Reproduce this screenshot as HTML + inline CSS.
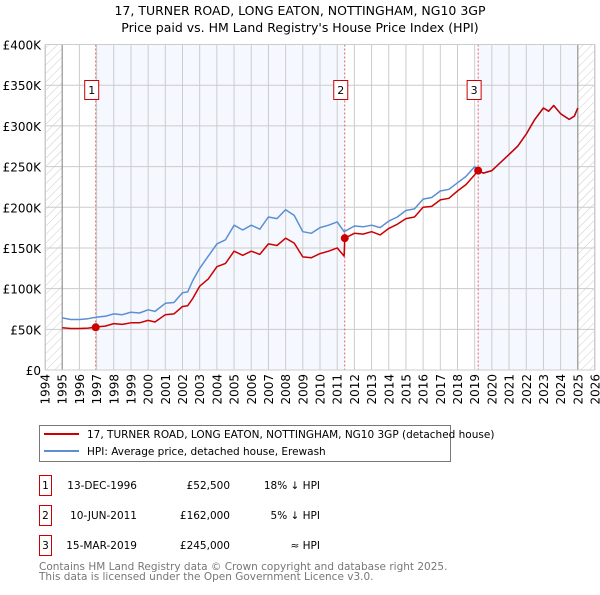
<!DOCTYPE html>
<html><head><meta charset="utf-8"><style>
body{margin:0;background:#fff;font-family:"Liberation Sans","DejaVu Sans",sans-serif;}
svg text{font-family:"DejaVu Sans","Liberation Sans",sans-serif;}
</style></head><body>
<svg id="chart" width="600" height="590" viewBox="0 0 600 590" xmlns="http://www.w3.org/2000/svg">
<defs>
<pattern id="hatch" width="6" height="6" patternUnits="userSpaceOnUse" patternTransform="rotate(45)">
<line x1="0" y1="0" x2="0" y2="6" stroke="#ccc" stroke-width="1"/>
</pattern>
</defs>
<text x="300" y="15" text-anchor="middle" font-size="12.5" fill="#000">17, TURNER ROAD, LONG EATON, NOTTINGHAM, NG10 3GP</text>
<text x="300" y="32" text-anchor="middle" font-size="12.5" fill="#000">Price paid vs. HM Land Registry's House Price Index (HPI)</text>
<g id="plot"></g>
<g>
<rect x="39.5" y="425.5" width="411" height="36" fill="#fff" stroke="#777"/>
<line x1="44" y1="434" x2="79" y2="434" stroke="#cc0000" stroke-width="2"/>
<text x="87" y="438" font-size="10.5">17, TURNER ROAD, LONG EATON, NOTTINGHAM, NG10 3GP (detached house)</text>
<line x1="44" y1="451" x2="79" y2="451" stroke="#5b8fd4" stroke-width="2"/>
<text x="87" y="455" font-size="10.5">HPI: Average price, detached house, Erewash</text>
</g>
<g font-size="10.5">
<rect x="39.5" y="475.5" width="12" height="20" fill="#fff" stroke="#cc0000"/>
<text x="45.5" y="489" text-anchor="middle">1</text>
<text x="137" y="489" text-anchor="end">13-DEC-1996</text>
<text x="230" y="489" text-anchor="end">£52,500</text>
<text x="320" y="489" text-anchor="end">18% ↓ HPI</text>
<rect x="39.5" y="505.5" width="12" height="20" fill="#fff" stroke="#cc0000"/>
<text x="45.5" y="519" text-anchor="middle">2</text>
<text x="137" y="519" text-anchor="end">10-JUN-2011</text>
<text x="230" y="519" text-anchor="end">£162,000</text>
<text x="320" y="519" text-anchor="end">5% ↓ HPI</text>
<rect x="39.5" y="535.5" width="12" height="20" fill="#fff" stroke="#cc0000"/>
<text x="45.5" y="549" text-anchor="middle">3</text>
<text x="137" y="549" text-anchor="end">15-MAR-2019</text>
<text x="230" y="549" text-anchor="end">£245,000</text>
<text x="320" y="549" text-anchor="end">≈ HPI</text>
</g>
<text x="39" y="570" font-size="10.5" fill="#777">Contains HM Land Registry data © Crown copyright and database right 2025.</text>
<text x="39" y="580" font-size="10.5" fill="#777">This data is licensed under the Open Government Licence v3.0.</text>
</svg>
<script>
const yTicks=[0,50,100,150,200,250,300,350,400];
const yTickLabels=["£0","£50K","£100K","£150K","£200K","£250K","£300K","£350K","£400K"];
const xYears=[1994,1995,1996,1997,1998,1999,2000,2001,2002,2003,2004,2005,2006,2007,2008,2009,2010,2011,2012,2013,2014,2015,2016,2017,2018,2019,2020,2021,2022,2023,2024,2025,2026];
const hpiYears=[1995,1995.5,1996,1996.5,1997,1997.5,1998,1998.5,1999,1999.5,2000,2000.4,2001,2001.5,2002,2002.3,2002.6,2003,2003.5,2004,2004.5,2005,2005.5,2006,2006.5,2007,2007.5,2008,2008.5,2009,2009.5,2010,2010.5,2011,2011.4,2012,2012.5,2013,2013.5,2014,2014.5,2015,2015.5,2016,2016.5,2017,2017.5,2018,2018.5,2019,2019.2,2019.5,2020,2020.5,2021,2021.5,2022,2022.5,2023,2023.3,2023.6,2024,2024.5,2024.8,2025];
const hpiValues=[64,62,62,63,65,66,69,68,71,70,74,72,82,83,95,96,110,125,140,155,160,178,172,178,173,188,186,197,190,170,168,175,178,182,170,177,176,178,175,183,188,196,198,210,212,220,222,230,238,250,245,242,245,255,265,275,290,308,322,318,325,315,308,312,322];
const ppYears=[1995,1995.5,1996,1996.5,1996.95,1997,1997.5,1998,1998.5,1999,1999.5,2000,2000.4,2001,2001.5,2002,2002.3,2002.6,2003,2003.5,2004,2004.5,2005,2005.5,2006,2006.5,2007,2007.5,2008,2008.5,2009,2009.5,2010,2010.5,2011,2011.4,2011.44,2012,2012.5,2013,2013.5,2014,2014.5,2015,2015.5,2016,2016.5,2017,2017.5,2018,2018.5,2019,2019.2,2019.5,2020,2020.5,2021,2021.5,2022,2022.5,2023,2023.3,2023.6,2024,2024.5,2024.8,2025];
const ppValues=[52,51,51,51.5,52.5,53,54,57,56,58,58,61,59,68,69,78,79,88,103,112,127,131,146,141,146,142,155,153,162,156,139,138,143,146,150,140,162,168,167,170,166,174,179,186,188,200,201,209,211,220,228,240,245,242,245,255,265,275,290,308,322,318,325,315,308,312,322];
const saleYears=[1996.95,2011.44,2019.2];
const saleValues=[52.5,162,245];
const saleLabels=["1","2","3"];

const NS="http://www.w3.org/2000/svg";
const L=45,R=595,T=44.5,B=370;
const sx=y=>L+(y-1994)*(R-L)/32;
const sy=v=>B-v*(B-T)/400;
const plot=document.getElementById('plot');
function mk(tag,attrs,parent){const e=document.createElementNS(NS,tag);for(const k in attrs)e.setAttribute(k,attrs[k]);(parent||plot).appendChild(e);return e;}

let e;
e=mk('rect',{x:L,y:T,width:R-L,height:B-T,fill:'#fff'});


e=mk('rect',{x:sx(saleYears[0]),y:T,width:sx(saleYears[1])-sx(saleYears[0]),height:B-T,fill:'#f5f8fe'});


e=mk('rect',{x:sx(saleYears[2]),y:T,width:sx(2025)-sx(saleYears[2]),height:B-T,fill:'#f5f8fe'});


e=mk('rect',{x:L,y:T,width:sx(1995)-L,height:B-T,fill:'url(#hatch)'});


e=mk('rect',{x:sx(2025),y:T,width:R-sx(2025),height:B-T,fill:'url(#hatch)'});



yTicks.forEach((v,i)=>{
  const g=mk('line',{x1:L,x2:R,y1:sy(v),y2:sy(v),stroke:'#ccc','stroke-width':1});
  
  
  const t=mk('text',{x:L-4,y:sy(v)+5,'text-anchor':'end','font-size':12});
  t.textContent=yTickLabels[i];
  
  
});
xYears.forEach(yr=>{
  const g=mk('line',{x1:sx(yr),x2:sx(yr),y1:T,y2:B,stroke:'#ccc','stroke-width':1});
  
  
  const t=mk('text',{x:0,y:0,'text-anchor':'end','font-size':12,transform:`translate(${sx(yr)+4.5},${B+4}) rotate(-90)`});
  t.textContent=yr;
  
  
});
e=mk('line',{x1:sx(1995),x2:sx(1995),y1:T,y2:B,stroke:'#888'});


e=mk('line',{x1:sx(2025),x2:sx(2025),y1:T,y2:B,stroke:'#888'});



saleYears.forEach((yr,i)=>{
  const l=mk('line',{x1:sx(yr),x2:sx(yr),y1:T,y2:B,stroke:'#e06060','stroke-dasharray':'2,2','stroke-width':1});
  
  
});

function path(xs,vs,color,name){
  const d=xs.map((x,i)=>(i?'L':'M')+sx(x).toFixed(1)+','+sy(vs[i]).toFixed(1)).join('');
  const p=mk('path',{d:d,fill:'none',stroke:color,'stroke-width':1.5,'stroke-linejoin':'round'});
  
  
}
path(hpiYears,hpiValues,'#5b8fd4','hpi-line');
path(ppYears,ppValues,'#cc0000','price-paid-line');

saleYears.forEach((yr,i)=>{
  const c=mk('circle',{cx:sx(yr),cy:sy(saleValues[i]),r:4,fill:'#cc0000'});
  
  
  const bx=sx(yr)-4;
  const r=mk('rect',{x:bx-7,y:80.5,width:14,height:19,fill:'#fff',stroke:'#cc0000'});
  
  
  const t=mk('text',{x:bx,y:94,'text-anchor':'middle','font-size':11});
  t.textContent=saleLabels[i];
  
  
});
e=mk('rect',{x:L+0.5,y:T,width:R-L-1,height:B-T,fill:'none',stroke:'#ccc'});


</script>
</body></html>
